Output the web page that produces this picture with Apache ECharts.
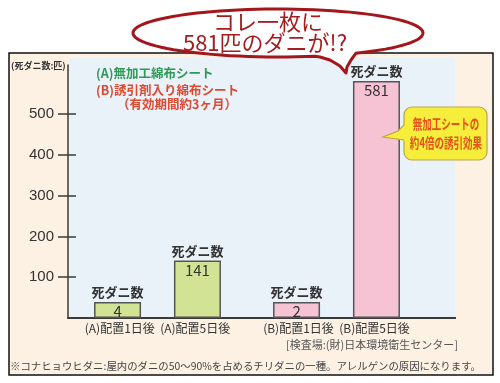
<!DOCTYPE html>
<html>
<head>
<meta charset="utf-8">
<script src="https://cdn.jsdelivr.net/npm/echarts@6/dist/echarts.min.js"></script>
<style>
html,body{margin:0;padding:0;background:#fff;}
#c{width:500px;height:383px;}
</style>
</head>
<body>
<div id="c"></div>
<script>
// ---- data ----
const categories = ['(A)配置1日後', '(A)配置5日後', '(B)配置1日後', '(B)配置5日後'];
const groups = ['(A)', '(B)'];
const seriesNames = ['配置1日後', '配置5日後'];
const day1Values = [4, 2];      // (A), (B)
const day5Values = [141, 581];  // (A), (B)
const yTicks = [100, 200, 300, 400, 500];
const yMax = 620;
const barLabelTitle = '死ダニ数';
const yAxisTitle = '(死ダニ数:匹)';
const legendA = '(A)無加工綿布シート';
const legendB = '(B)誘引剤入り綿布シート';
const legendB2 = '（有効期間約3ヶ月）';
const bubbleText = ['コレ一枚に', '581匹のダニが!?'];
const calloutText = ['無加工シートの', '約4倍の誘引効果'];
const sourceText = '[検査場:(財)日本環境衛生センター]';
const footnote = '※コナヒョウヒダニ:屋内のダニの50〜90%を占めるチリダニの一種。アレルゲンの原因になります。';

// ---- styles ----
const FONT = '"Noto Sans CJK JP", "Noto Sans", sans-serif';
const groupColors = ['#d3e396', '#f5c3d4'];
const axisColor = '#3a3a3a';

// speech bubble outline (decoration): ellipse arc + tail
function bubblePoints() {
  const cx = 278, cy = 33, rx = 145, ry = 24;
  const pts = [];
  const a0 = Math.acos((315 - cx) / rx);
  const a1 = Math.acos((356 - cx) / rx);
  const steps = 90;
  for (let i = 0; i <= steps; i++) {
    const t = a0 + (2 * Math.PI + a1 - a0) * i / steps;
    pts.push([cx + rx * Math.cos(t), cy + ry * Math.sin(t)]);
  }
  pts.push([351, 60], [347, 67], [346, 73], [340, 66], [330, 60], [320, 57]);
  return pts;
}

const chart = echarts.init(document.getElementById('c'), null, {renderer: 'canvas'});

function makeData(vals) {
  return vals.map((v, i) => ({value: v, itemStyle: {color: groupColors[i]}}));
}
const barLabel = {
  show: true,
  position: ['50%', 0],
  align: 'center',
  verticalAlign: 'middle',
  formatter: p => '{t|' + barLabelTitle + '}\n{v|' + p.value + '}',
  rich: {
    t: {fontSize: 13, fontWeight: 'bold', color: '#333', lineHeight: 19, fontFamily: FONT},
    v: {fontSize: 15, color: '#333', lineHeight: 19, fontFamily: FONT}
  }
};
const barCommon = {
  type: 'bar',
  barWidth: 47,
  barGap: '70%',
  barMinHeight: 16,
  itemStyle: {borderColor: '#555', borderWidth: 1.5},
  label: barLabel,
  emphasis: {disabled: true},
  animation: false
};

const option = {
  animation: false,
  textStyle: {fontFamily: FONT},
  grid: {left: 68, right: 74, top: 65, bottom: 65, containLabel: false},
  xAxis: {
    type: 'category',
    data: groups,
    axisLine: {show: true, lineStyle: {color: axisColor, width: 2}},
    axisTick: {show: false},
    axisLabel: {
      interval: 0, hideOverlap: false,
      fontSize: 12, color: '#333', margin: 4, fontFamily: FONT,
      formatter: (val, idx) => categories[idx * 2] + '  ' + categories[idx * 2 + 1]
    }
  },
  yAxis: [{
    type: 'value', min: 0, max: yMax, interval: 100,
    axisLine: {show: true, lineStyle: {color: axisColor, width: 1.5}},
    axisTick: {show: true, length: 10, customValues: yTicks, lineStyle: {color: axisColor, width: 1.5}},
    axisLabel: {customValues: yTicks, fontSize: 15, color: '#333', margin: 14, fontFamily: 'Liberation Sans, Arial, sans-serif'},
    splitLine: {show: false}
  }, {
    type: 'value', min: 0, max: yMax, interval: 100, position: 'left',
    axisLine: {show: false},
    axisTick: {show: true, inside: true, length: 8, customValues: yTicks, lineStyle: {color: axisColor, width: 1.5}},
    axisLabel: {show: false},
    splitLine: {show: false}
  }],
  series: [
    Object.assign({name: seriesNames[0], data: makeData(day1Values)}, barCommon),
    Object.assign({name: seriesNames[1], data: makeData(day5Values)}, barCommon)
  ],
  graphic: [
    {type: 'rect', z: -20, shape: {x: 9, y: 53, width: 484, height: 322},
     style: {fill: '#fdf1e4', stroke: '#111', lineWidth: 1.5}},
    {type: 'rect', z: -19, shape: {x: 69, y: 58, width: 386, height: 260},
     style: {fill: '#e9f1f9'}},
    {type: 'line', z: 5, shape: {x1: 425, y1: 318, x2: 456, y2: 318},
     style: {stroke: axisColor, lineWidth: 2}},
    {type: 'text', z: 5, x: 11, y: 66,
     style: {text: yAxisTitle, fill: '#333', align: 'left', verticalAlign: 'middle', font: 'bold 9px ' + FONT}},
    {type: 'text', z: 5, x: 96, y: 73,
     style: {text: legendA, fill: '#2e9a55', align: 'left', verticalAlign: 'middle', font: 'bold 12.5px ' + FONT}},
    {type: 'text', z: 5, x: 96, y: 90,
     style: {text: legendB, fill: '#dc4a32', align: 'left', verticalAlign: 'middle', font: 'bold 12.5px ' + FONT}},
    {type: 'text', z: 5, x: 117, y: 104,
     style: {text: legendB2, fill: '#dc4a32', align: 'left', verticalAlign: 'middle', font: 'bold 12.5px ' + FONT}},
    {type: 'rect', z: 10, shape: {x: 404, y: 107, width: 83, height: 53, r: 8},
     style: {fill: '#f6ee3a', stroke: '#b9a84a', lineWidth: 1.2}},
    {type: 'polygon', z: 11, shape: {points: [[406, 124], [398, 131], [383, 137], [397, 139], [406, 141]]},
     style: {fill: '#f6ee3a'}},
    {type: 'polyline', z: 12, shape: {points: [[404, 125], [398, 131], [383, 137], [397, 139], [404, 140]]},
     style: {stroke: '#b9a84a', lineWidth: 1.2, fill: null}},
    {type: 'text', z: 12, x: 446, y: 124, scaleX: 0.68,
     style: {text: calloutText[0], fill: '#e5521c', align: 'center', verticalAlign: 'middle', font: 'bold 14px ' + FONT}},
    {type: 'text', z: 12, x: 446, y: 143, scaleX: 0.68,
     style: {text: calloutText[1], fill: '#e5521c', align: 'center', verticalAlign: 'middle', font: 'bold 14px ' + FONT}},
    {type: 'text', z: 5, x: 458, y: 345,
     style: {text: sourceText, fill: '#555', align: 'right', verticalAlign: 'middle', font: '11px ' + FONT}},
    {type: 'text', z: 5, x: 10, y: 366,
     style: {text: footnote, fill: '#444', align: 'left', verticalAlign: 'middle', font: '10.4px ' + FONT}},
    {type: 'polygon', z: 100, shape: {points: bubblePoints(), smooth: 0},
     style: {fill: '#fff', stroke: '#a3161c', lineWidth: 3, lineJoin: 'round'}},
    {type: 'text', z: 101, x: 268, y: 22,
     style: {text: bubbleText[0], fill: '#a31d1f', align: 'center', verticalAlign: 'middle', font: '22px ' + FONT}},
    {type: 'text', z: 101, x: 265, y: 43,
     style: {text: bubbleText[1], fill: '#a31d1f', align: 'center', verticalAlign: 'middle', font: '22px ' + FONT}}
  ]
};
chart.setOption(option);
</script>
</body>
</html>
